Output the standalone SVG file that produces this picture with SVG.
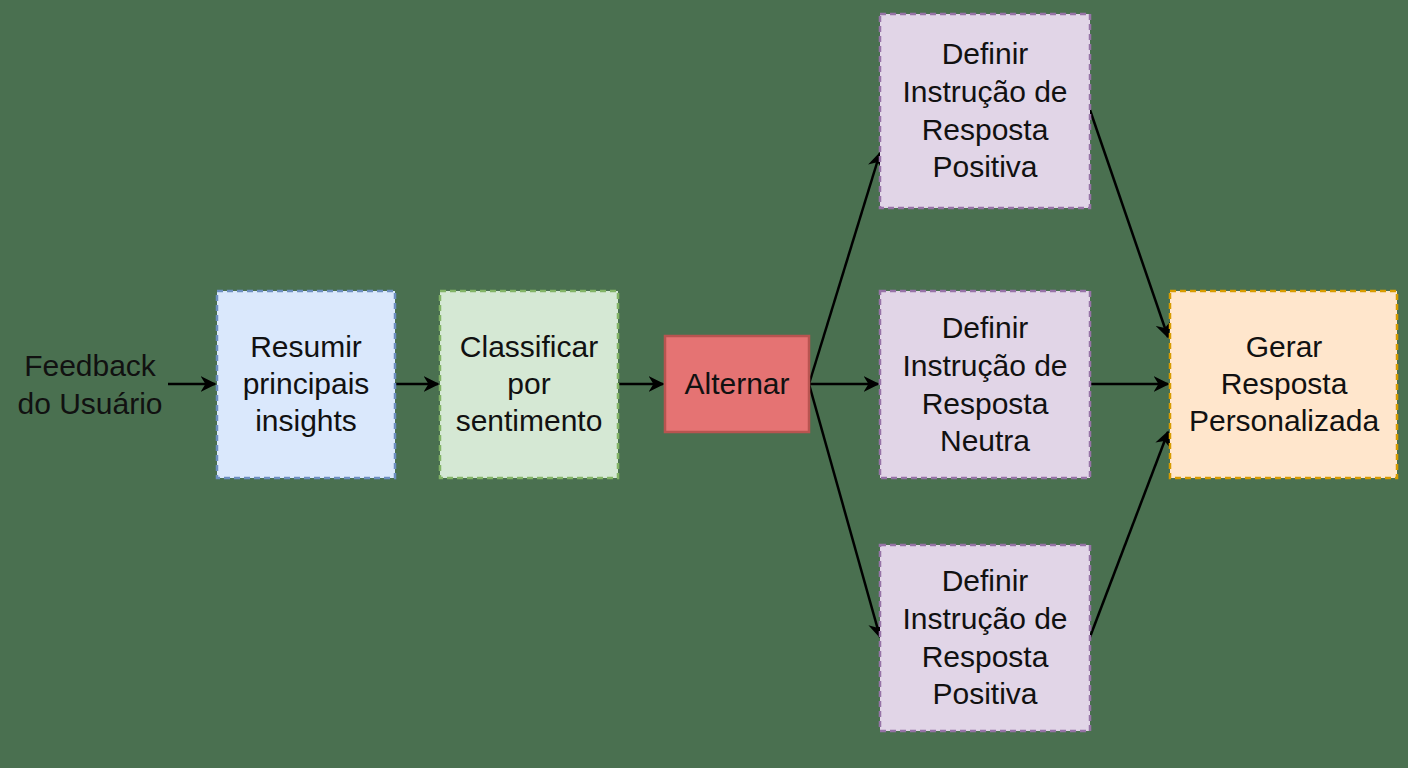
<svg xmlns="http://www.w3.org/2000/svg" width="1408" height="768" viewBox="0 0 1408 768">
<style>
text{font-family:"Liberation Sans",Arial,sans-serif;font-size:30px;fill:#111;text-anchor:middle}
.n{stroke-width:2.5;stroke-dasharray:6 4}
.c{stroke:#000;stroke-width:2.5;fill:none;marker-end:url(#a)}
</style>
<defs><marker id="a" viewBox="0 0 10 10" refX="9" refY="5" markerWidth="16" markerHeight="16" orient="auto" markerUnits="userSpaceOnUse"><path d="M0,0 L10,5 L0,10 L3,5 z" fill="#000"/></marker></defs>
<rect width="1408" height="768" fill="#4a7050"/>
<g id="connectors">
<line class="c" x1="168" y1="384" x2="215" y2="384"/>
<line class="c" x1="395" y1="384" x2="438" y2="384"/>
<line class="c" x1="618" y1="384" x2="663" y2="384"/>
<line class="c" x1="809" y1="384" x2="878" y2="384"/>
<line class="c" x1="809" y1="384" x2="880" y2="153"/>
<line class="c" x1="809" y1="384" x2="880" y2="637"/>
<line class="c" x1="1090" y1="110" x2="1168" y2="337"/>
<line class="c" x1="1090" y1="384" x2="1168" y2="384"/>
<line class="c" x1="1090" y1="637" x2="1168" y2="432"/>
</g>
<g id="feedback"><text x="90" y="376">Feedback</text><text x="90" y="414">do Usuário</text></g>
<g id="resumir"><rect class="n" x="217" y="291" width="178" height="187" fill="#dae8fc" stroke="#6c8ebf"/><text x="306" y="357">Resumir</text><text x="306" y="394">principais</text><text x="306" y="431">insights</text></g>
<g id="classificar"><rect class="n" x="440" y="291" width="178" height="187" fill="#d5e8d4" stroke="#82b366"/><text x="529" y="357">Classificar</text><text x="529" y="394">por</text><text x="529" y="431">sentimento</text></g>
<g id="alternar"><rect x="665" y="336" width="144" height="96" fill="#e57373" stroke="#b85450" stroke-width="2.5"/><text x="737" y="394">Alternar</text></g>
<g id="pos1"><rect class="n" x="880" y="14" width="210" height="194" fill="#e1d5e7" stroke="#9673a6"/><text x="985" y="64">Definir</text><text x="985" y="102">Instrução de</text><text x="985" y="140">Resposta</text><text x="985" y="177">Positiva</text></g>
<g id="neutra"><rect class="n" x="880" y="291" width="210" height="187" fill="#e1d5e7" stroke="#9673a6"/><text x="985" y="338">Definir</text><text x="985" y="376">Instrução de</text><text x="985" y="414">Resposta</text><text x="985" y="451">Neutra</text></g>
<g id="pos2"><rect class="n" x="880" y="545" width="210" height="186" fill="#e1d5e7" stroke="#9673a6"/><text x="985" y="591">Definir</text><text x="985" y="629">Instrução de</text><text x="985" y="667">Resposta</text><text x="985" y="704">Positiva</text></g>
<g id="gerar"><rect class="n" x="1170" y="291" width="227" height="187" fill="#ffe6cc" stroke="#d79b00"/><text x="1284" y="357">Gerar</text><text x="1284" y="394">Resposta</text><text x="1284" y="431">Personalizada</text></g>
</svg>
